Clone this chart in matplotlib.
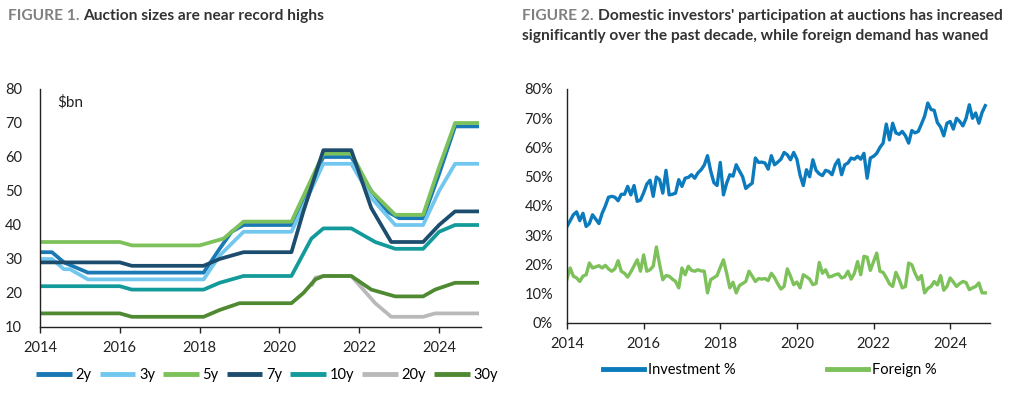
import matplotlib
matplotlib.use("Agg")
import matplotlib.pyplot as plt
import numpy as np

plt.rcParams['font.family'] = ['Lato', 'DejaVu Sans']

# ---------------- Figure 1 data: auction sizes ($bn) ----------------
series_names = ["2y", "3y", "5y", "7y", "10y", "20y", "30y"]
series_colors = ["#1a78b4", "#72c7ee", "#7dc15a", "#1c4d6e", "#139a9b", "#b9b9b9", "#4f8a32"]

t_2y = [2014.0, 2014.3, 2014.6, 2015.2, 2018.1, 2018.5, 2018.8, 2019.1, 2020.3, 2021.1, 2021.8, 2022.3, 2022.7, 2023.0, 2023.6, 2024.0, 2024.4, 2025.0]
v_2y = [32, 32, 29, 26, 26, 33, 38, 40, 40, 60, 60, 50, 44, 42, 42, 55, 69, 69]

t_3y = [2014.0, 2014.3, 2014.6, 2014.75, 2015.2, 2018.1, 2018.5, 2019.1, 2020.3, 2021.1, 2021.8, 2022.3, 2022.9, 2023.6, 2024.0, 2024.4, 2025.0]
v_3y = [30, 30, 27, 27, 24, 24, 31, 38, 38, 58, 58, 48, 40, 40, 50, 58, 58]

t_5y = [2014.0, 2016.0, 2016.3, 2018.0, 2018.6, 2019.1, 2020.3, 2021.1, 2021.8, 2022.3, 2022.9, 2023.6, 2024.0, 2024.4, 2025.0]
v_5y = [35, 35, 34, 34, 36, 41, 41, 61, 61, 50, 43, 43, 57, 70, 70]

t_7y = [2014.0, 2016.0, 2016.3, 2018.1, 2018.5, 2019.1, 2020.3, 2020.6, 2021.1, 2021.8, 2022.3, 2022.8, 2023.6, 2024.0, 2024.4, 2025.0]
v_7y = [29, 29, 28, 28, 30, 32, 32, 44, 62, 62, 45, 35, 35, 40, 44, 44]

t_10y = [2014.0, 2016.0, 2016.3, 2018.1, 2018.5, 2019.1, 2020.3, 2020.8, 2021.1, 2021.8, 2022.4, 2022.9, 2023.6, 2024.0, 2024.4, 2025.0]
v_10y = [22, 22, 21, 21, 23, 25, 25, 36, 39, 39, 35, 33, 33, 38, 40, 40]

t_20y = [2020.8, 2020.9, 2021.1, 2021.8, 2022.1, 2022.4, 2022.8, 2023.6, 2023.9, 2025.0]
v_20y = [22, 24.5, 25, 25, 21, 17, 13, 13, 14, 14]

t_30y = [2014.0, 2016.0, 2016.3, 2018.1, 2018.5, 2019.0, 2020.3, 2020.6, 2020.9, 2021.1, 2021.8, 2022.3, 2022.9, 2023.6, 2023.9, 2024.4, 2025.0]
v_30y = [14, 14, 13, 13, 15, 17, 17, 20, 24, 25, 25, 21, 19, 19, 21, 23, 23]

fig1_t = [t_2y, t_3y, t_5y, t_7y, t_10y, t_20y, t_30y]
fig1_v = [v_2y, v_3y, v_5y, v_7y, v_10y, v_20y, v_30y]

# ---------------- Figure 2 data: monthly participation (%) ----------------
start_year = 2014
investment = [
    33, 35, 37, 38, 35, 37.5, 33, 34, 37, 35.5, 34, 37.5,
    40, 43, 43.3, 43, 41.8, 44, 44, 46.7, 43.8, 47, 41.6, 42,
    44.5, 47.5, 48.8, 43.3, 49.9, 49, 44.4, 52.2, 43.8, 44, 44.4, 49,
    46.7, 49.5, 49.8, 50.7, 49.5, 51.3, 52.4, 54, 57.2, 52, 48, 47,
    54.9, 43.8, 47.8, 50.7, 50.2, 54.1, 52, 50, 46, 47, 47.8, 56.4,
    54.9, 55, 54.7, 52.6, 57.2, 54.1, 55, 56, 58.3, 57.5, 55.8, 58.3,
    56, 50.5, 47, 52.4, 50, 55.8, 52.2, 51, 50.4, 52.2, 51.8, 50.7,
    54.1, 55.8, 50.7, 54.1, 54.7, 56.4, 56, 57, 56, 58, 49.5, 56.4,
    57, 58, 60, 61.5, 68, 62.6, 68.3, 65, 64.5, 65.5, 64, 61.5,
    65.8, 65, 65.5, 68, 70.7, 75.2, 73, 72.7, 68.5, 67, 64, 68.3,
    68.9, 66.3, 70, 68.9, 67.4, 70, 74.6, 70, 71.8, 68.3, 72, 74.3,
]
foreign = [
    15, 18.8, 16, 15.4, 14.2, 16, 16.5, 20.5, 18.8, 19.2, 19.6, 18.8,
    19.7, 18.5, 17.7, 18.5, 21.3, 17.7, 17, 15.7, 17.5, 19.5, 21.6, 17.7,
    23.3, 17.7, 18.2, 19.4, 26, 20, 14.8, 16.2, 16, 15, 14.2, 12,
    18.8, 16.5, 19.4, 18, 17.7, 18.2, 17.8, 17.7, 10.3, 14.8, 15.5, 16.2,
    19, 21.6, 17, 12, 13.9, 10.3, 12.8, 13.5, 14.2, 17.7, 16, 14.2,
    15.2, 15, 15.2, 14.5, 17, 15.5, 13.4, 11.6, 12.5, 18.5, 16, 13.1,
    14, 12, 16.5, 15.8, 15, 13.1, 13.5, 20.7, 17, 18.2, 15.7, 16,
    16.5, 16.8, 15.4, 15.8, 17.7, 15, 17, 21, 16.5, 22.8, 22.5, 18,
    21, 23.9, 17.7, 17.3, 15.5, 13.4, 12.5, 17.3, 15, 12, 12.5, 20.5,
    19.9, 17, 14.8, 16.2, 10.3, 11.8, 12.5, 14.2, 13, 16.2, 11.2, 12.5,
    15.4, 14, 12.5, 13.5, 14.2, 13.8, 11.4, 12, 12.5, 13.7, 10.3, 10.3,
]
fig2_names = ["Investment %", "Foreign %"]
fig2_colors = ["#0b7bbd", "#7dc15a"]

year_ticks = [2014, 2016, 2018, 2020, 2022, 2024]

# ---------------- Drawing ----------------
W, H = 1022, 394
fig = plt.figure(figsize=(W / 100, H / 100), dpi=100)

def px_axes(l, t, r, b):
    return fig.add_axes([l / W, 1 - b / H, (r - l) / W, (b - t) / H])

def style_axes(ax):
    for s in ["top", "right"]:
        ax.spines[s].set_visible(False)
    for s in ["left", "bottom"]:
        ax.spines[s].set_color("#222222")
        ax.spines[s].set_linewidth(1.0)
    ax.tick_params(axis="y", length=0, labelsize=10.5, colors="#222222", pad=8)
    ax.tick_params(axis="x", length=4, width=1, direction="out", labelsize=10.5,
                   colors="#222222", pad=6)
    ax.set_xticks(year_ticks)
    ax.set_xticklabels([str(y) for y in year_ticks])

# Figure 1
ax1 = px_axes(40, 89, 481, 327)
handles1 = []
for name, col, tt, vv in zip(series_names, series_colors, fig1_t, fig1_v):
    h, = ax1.plot(tt, vv, color=col, lw=2.7, solid_joinstyle="round",
                  solid_capstyle="butt", label=name)
    handles1.append(h)
ax1.set_xlim(2014, 2025.05)
ax1.set_ylim(10, 80)
ax1.set_yticks(range(10, 81, 10))
style_axes(ax1)
ax1.text(0.04, 0.975, "$bn", transform=ax1.transAxes, fontsize=11,
         color="#222222", va="top", ha="left")
ax1.tick_params(axis="y", pad=13)

# grey under dark green
handles1[5].set_zorder(1.5)
handles1[6].set_zorder(2.5)

leg1 = fig.legend(handles1, series_names, loc="center", ncol=7,
                  bbox_to_anchor=(267 / W, 1 - 375 / H), frameon=False,
                  fontsize=10.5, handlelength=2.45, handletextpad=0.25,
                  columnspacing=0.55, borderaxespad=0)
for ln in leg1.get_lines():
    ln.set_linewidth(3.5)

# Figure 2
ax2 = px_axes(567, 89, 990, 323)
tm = [start_year + i / 12 for i in range(len(investment))]
h_inv, = ax2.plot(tm, investment, color=fig2_colors[0], lw=2.4,
                  solid_joinstyle="round", label=fig2_names[0])
h_for, = ax2.plot(tm, foreign, color=fig2_colors[1], lw=2.4,
                  solid_joinstyle="round", label=fig2_names[1])
ax2.set_xlim(2014, 2025.04)
ax2.set_ylim(0, 80)
ax2.set_yticks(range(0, 81, 10))
ax2.set_yticklabels([f"{v}%" for v in range(0, 81, 10)])
style_axes(ax2)
ax2.tick_params(axis="y", pad=10)

leg2 = fig.legend([h_inv, h_for], fig2_names, loc="center", ncol=2,
                  bbox_to_anchor=(770 / W, 1 - 370 / H), frameon=False,
                  fontsize=10.5, handlelength=2.8, handletextpad=0.25,
                  columnspacing=6.3, borderaxespad=0)
for ln in leg2.get_lines():
    ln.set_linewidth(3.5)

# Titles (two-colour)
fig.canvas.draw()
renderer = fig.canvas.get_renderer()

def two_tone(x_px, y_px, first, second, size=11.2):
    t1 = fig.text(x_px / W, 1 - y_px / H, first, color="#808080",
                  fontsize=size, fontweight="bold", va="center", ha="left")
    bb = t1.get_window_extent(renderer=renderer)
    fig.text((bb.x1 + 4) / W, 1 - y_px / H, second, color="#333333",
             fontsize=size, fontweight="bold", va="center", ha="left")

two_tone(8, 16, "FIGURE 1.", "Auction sizes are near record highs")
two_tone(522, 16, "FIGURE 2.", "Domestic investors' participation at auctions has increased")
fig.text(522 / W, 1 - 36 / H,
         "significantly over the past decade, while foreign demand has waned",
         color="#333333", fontsize=11.2, fontweight="bold", va="center", ha="left")

fig.savefig("out.png", dpi=100)
